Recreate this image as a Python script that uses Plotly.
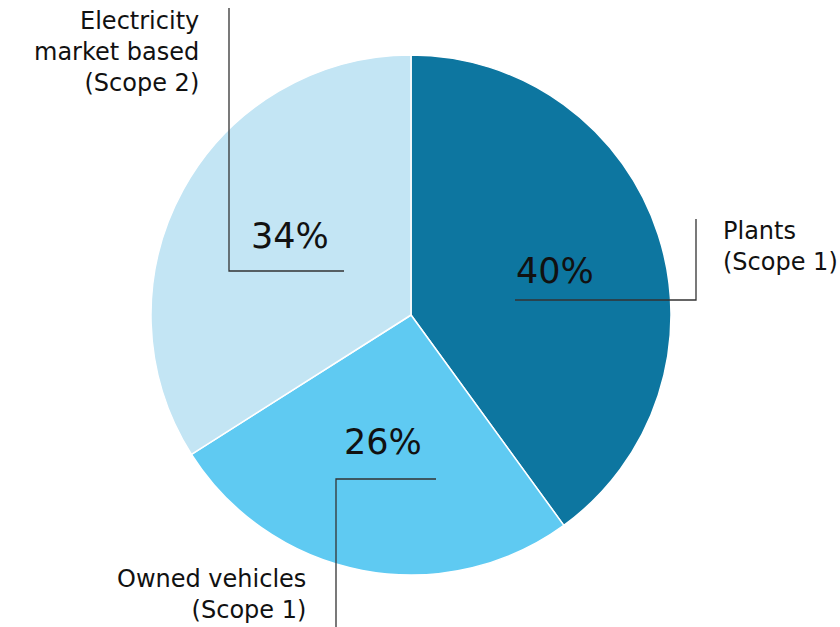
import plotly.graph_objects as go

labels = ["Plants<br>(Scope 1)", "Owned vehicles<br>(Scope 1)", "Electricity<br>market based<br>(Scope 2)"]
values = [40, 26, 34]
colors = ["#0d76a0", "#5fcaf2", "#c3e5f4"]

W, H = 840, 627


def px(x):
    return x / W


def py(y):
    return 1 - y / H


fig = go.Figure(go.Pie(
    labels=labels, values=values, sort=False, direction="clockwise", rotation=0,
    marker=dict(colors=colors, line=dict(color="white", width=1.5)),
    textinfo="none", hoverinfo="label+percent", showlegend=False,
    domain=dict(x=[px(151), px(671)], y=[py(575), py(55)]),
))

FONT = "'DejaVu Sans', sans-serif"
total = sum(values)
pct = [f"{round(v * 100 / total)}%" for v in values]

# percentage label positions (pixel centres)
pct_pos = [(555, 271), (383, 442), (290, 236)]
# category label positions and anchors
lab_pos = [(721, 246, "left"), (308, 594, "right"), (201, 52, "right")]
# leader lines (polyline in px)
leaders = [
    [(515, 300), (696, 300), (696, 219)],
    [(436, 479), (336, 479), (336, 627)],
    [(229, 8), (229, 271), (344, 271)],
]

annotations = []
for i in range(len(values)):
    x, y = pct_pos[i]
    annotations.append(dict(x=px(x), y=py(y), xref="paper", yref="paper", text=pct[i],
                            showarrow=False, xanchor="center", yanchor="middle",
                            font=dict(family=FONT, size=35, color="#111111")))
    lx, ly, anc = lab_pos[i]
    annotations.append(dict(x=px(lx), y=py(ly), xref="paper", yref="paper", text=labels[i],
                            showarrow=False, xanchor=anc, yanchor="middle", align=anc,
                            font=dict(family=FONT, size=24, color="#111111")))

shapes = []
for pts in leaders:
    path = "M " + " L ".join(f"{px(x)},{py(y)}" for x, y in pts)
    shapes.append(dict(type="path", xref="paper", yref="paper", path=path,
                       line=dict(color="#333333", width=1.3)))

fig.update_layout(
    width=W, height=H, margin=dict(l=0, r=0, t=0, b=0),
    paper_bgcolor="white", plot_bgcolor="white",
    annotations=annotations, shapes=shapes,
)

fig.write_html("out.html", config={"displayModeBar": False},
               post_script="document.body.style.margin='0';document.body.style.overflow='hidden';")
